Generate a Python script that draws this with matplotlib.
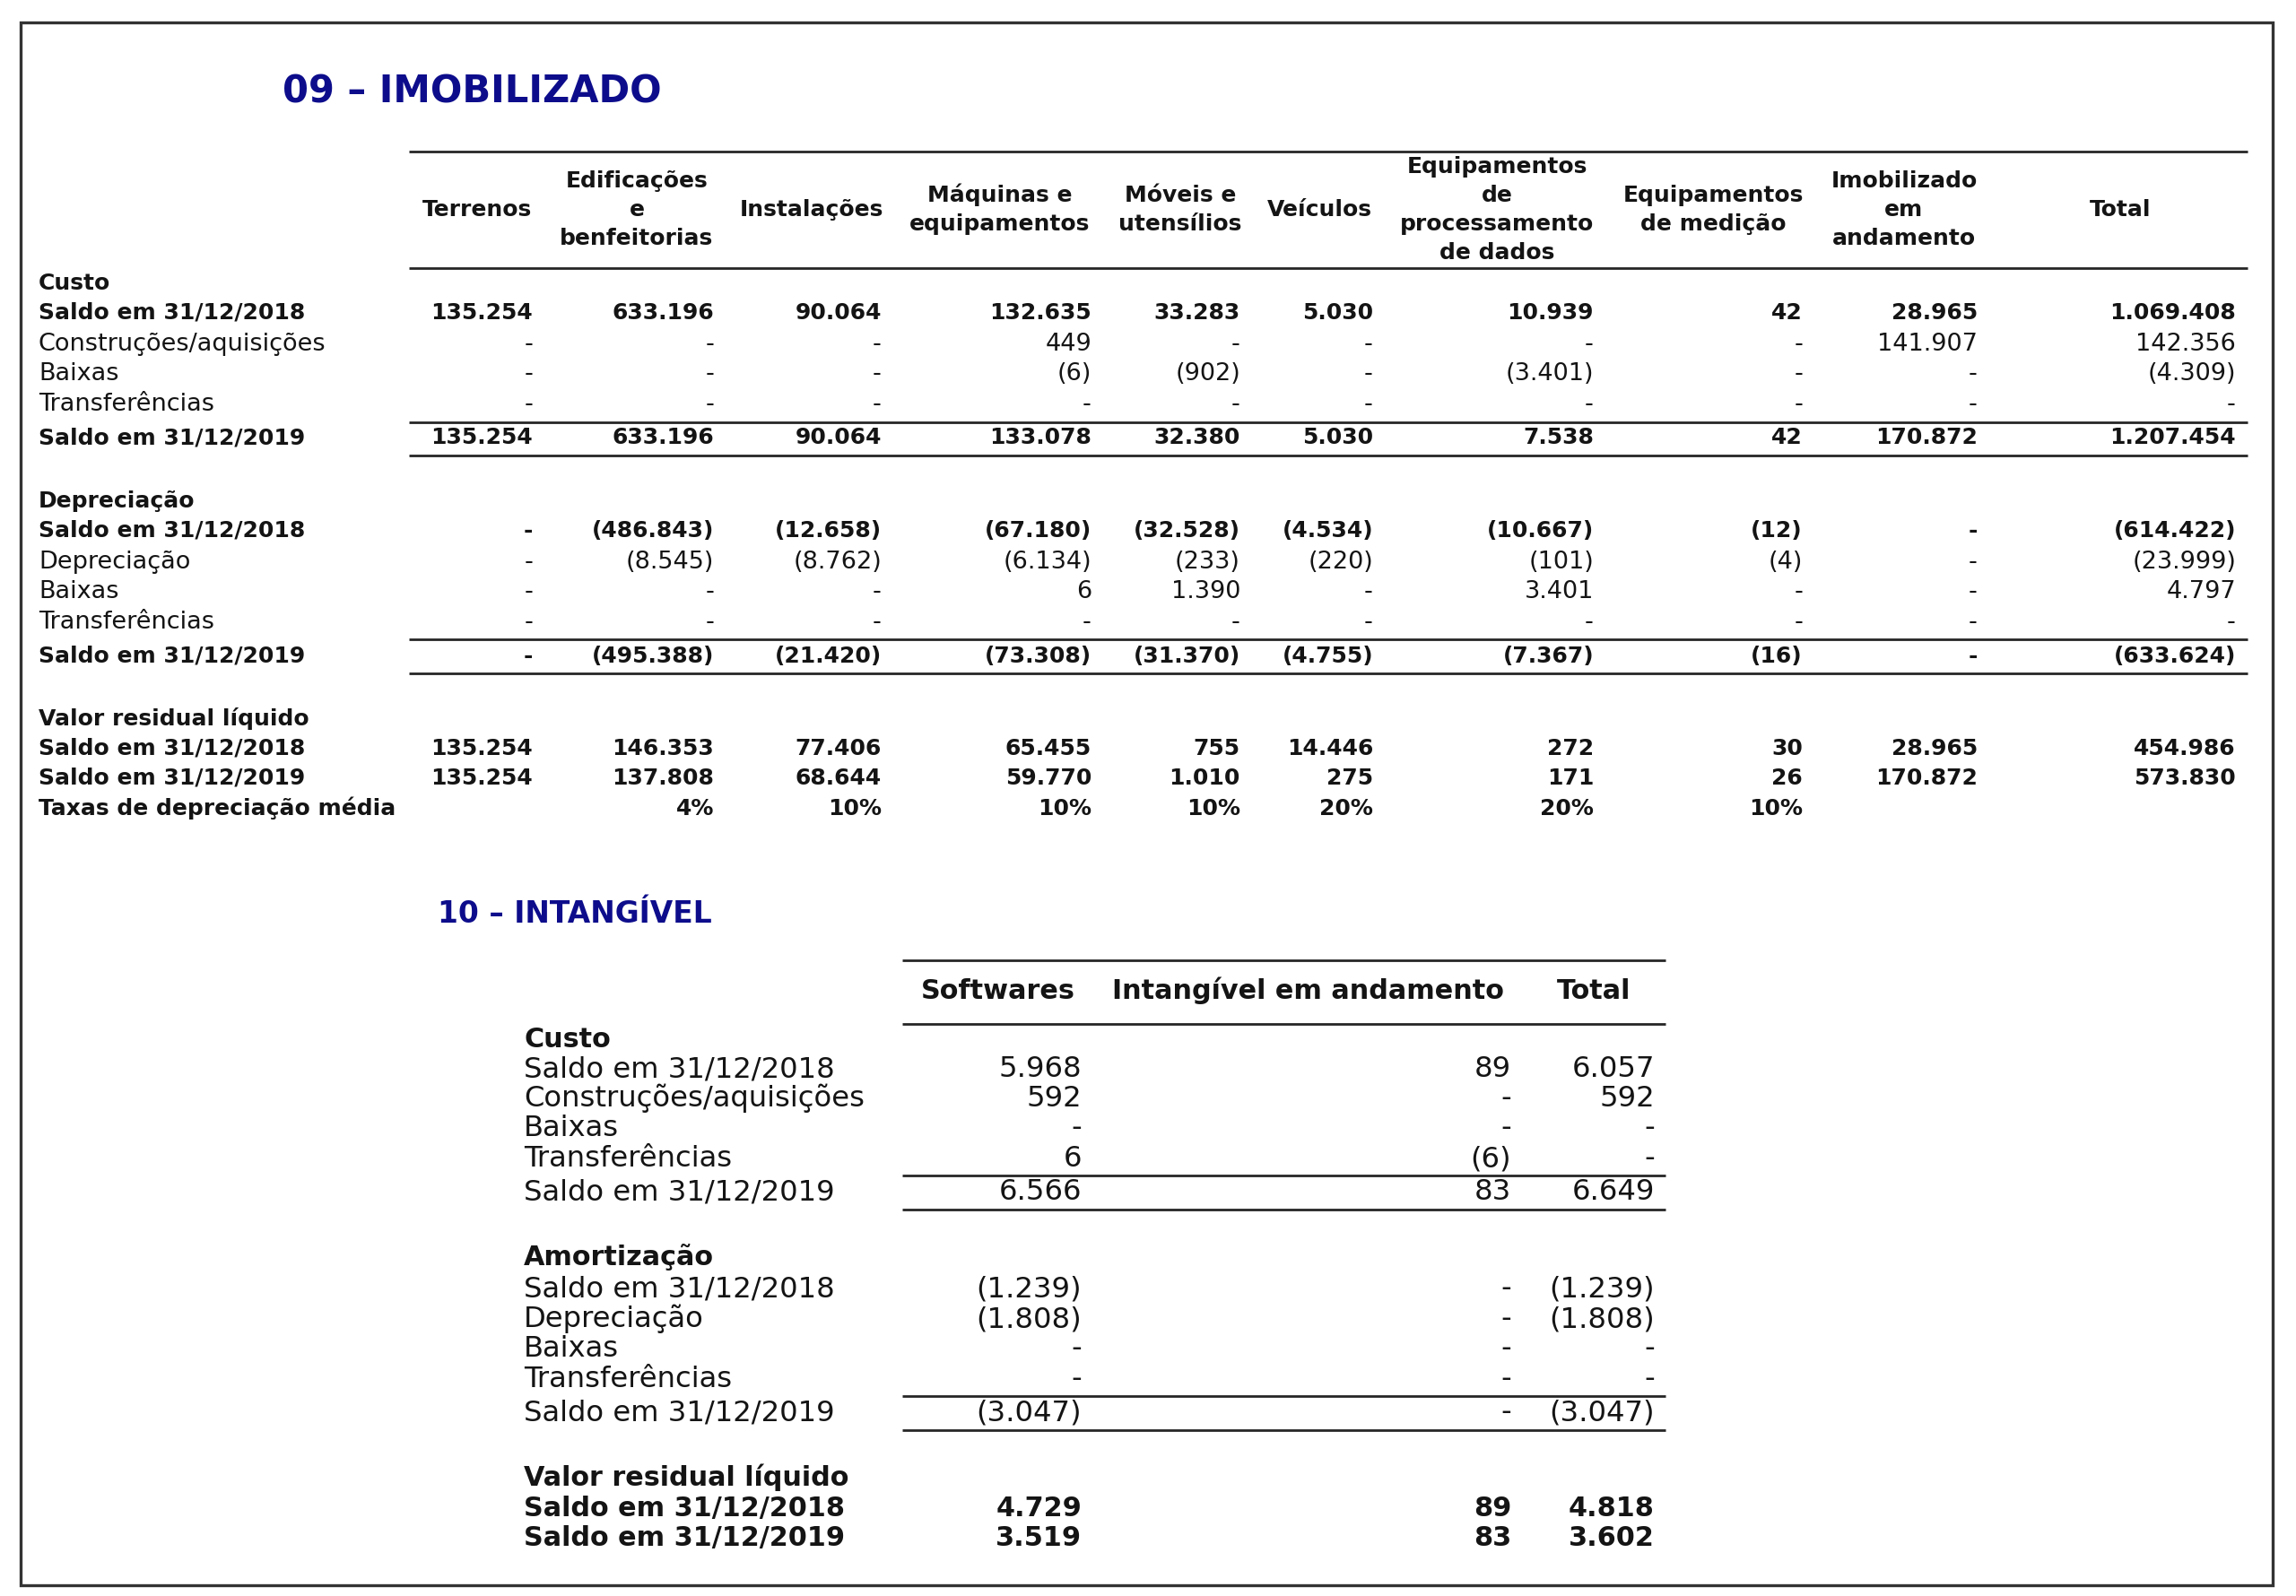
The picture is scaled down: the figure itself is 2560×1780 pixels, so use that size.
import matplotlib
matplotlib.use("Agg")
import matplotlib.pyplot as plt
from matplotlib.patches import Rectangle

plt.rcParams['font.family'] = ['DejaVu Sans']

# ---------------- DATA ----------------
title1 = "09 – IMOBILIZADO"
title2 = "10 – INTANGÍVEL"

cols1 = ["Terrenos", "Edificações\ne\nbenfeitorias", "Instalações", "Máquinas e\nequipamentos",
         "Móveis e\nutensílios", "Veículos", "Equipamentos\nde\nprocessamento\nde dados",
         "Equipamentos\nde medição", "Imobilizado\nem\nandamento", "Total"]

custo_saldo_2018 = [135254, 633196, 90064, 132635, 33283, 5030, 10939, 42, 28965, 1069408]
custo_construcoes = [None, None, None, 449, None, None, None, None, 141907, 142356]
custo_baixas = [None, None, None, -6, -902, None, -3401, None, None, -4309]
custo_transf = [None, None, None, None, None, None, None, None, None, None]
custo_saldo_2019 = [135254, 633196, 90064, 133078, 32380, 5030, 7538, 42, 170872, 1207454]

dep_saldo_2018 = [None, -486843, -12658, -67180, -32528, -4534, -10667, -12, None, -614422]
dep_depreciacao = [None, -8545, -8762, -6134, -233, -220, -101, -4, None, -23999]
dep_baixas = [None, None, None, 6, 1390, None, 3401, None, None, 4797]
dep_transf = [None, None, None, None, None, None, None, None, None, None]
dep_saldo_2019 = [None, -495388, -21420, -73308, -31370, -4755, -7367, -16, None, -633624]

res_saldo_2018 = [135254, 146353, 77406, 65455, 755, 14446, 272, 30, 28965, 454986]
res_saldo_2019 = [135254, 137808, 68644, 59770, 1010, 275, 171, 26, 170872, 573830]
taxas_pct = ["", 4, 10, 10, 10, 20, 20, 10, "", ""]

cols2 = ["Softwares", "Intangível em andamento", "Total"]
int_saldo_2018 = [5968, 89, 6057]
int_construcoes = [592, None, 592]
int_baixas = [None, None, None]
int_transf = [6, -6, None]
int_saldo_2019 = [6566, 83, 6649]
amo_saldo_2018 = [-1239, None, -1239]
amo_depreciacao = [-1808, None, -1808]
amo_baixas = [None, None, None]
amo_transf = [None, None, None]
amo_saldo_2019 = [-3047, None, -3047]
int_res_2018 = [4729, 89, 4818]
int_res_2019 = [3519, 83, 3602]


def fmt(v):
    if v is None:
        return "-"
    if v == "":
        return ""
    s = f"{abs(v):,}".replace(",", ".")
    return f"({s})" if v < 0 else s


def fmt_pct(v):
    return "" if v == "" else f"{v}%"


# ---------------- LAYOUT ----------------
W, H, DPI = 2560, 1781, 100
fig = plt.figure(figsize=(W / DPI, H / DPI), dpi=DPI)
ax = fig.add_axes([0, 0, 1, 1])
ax.set_xlim(0, W)
ax.set_ylim(H, 0)
ax.axis("off")

TXT = "#141414"
LINE = "#262626"
BLUE = "#0d0d8c"


def put(x, y, s, size, weight="normal", ha="left", color=TXT):
    # y = visual center of caps/digits (pixels); convert to baseline
    em = size * DPI / 72.0
    ax.text(x, y + 0.28 * em, s, fontsize=size, fontweight=weight, ha=ha,
            va="baseline", color=color)


def hline(x0, x1, y, lw=2.0):
    ax.plot([x0, x1], [y, y], color=LINE, lw=lw, solid_capstyle="butt")


# frame
ax.add_patch(Rectangle((23, 26), 2534 - 23, 1769 - 26, fill=False,
                       edgecolor="#333333", lw=2.4))

# ---- Table 1 ----
put(315, 103, title1, 30, "bold", color=BLUE)

FS1B, FS1R = 18, 19.5
hdr_centers1 = [532, 710, 905, 1115, 1316, 1471, 1669, 1910, 2123, 2364]
num_right1 = [594, 796, 983, 1217, 1383, 1531, 1777, 2010, 2205, 2493]
LBL1 = 43
T1_X0, T1_X1 = 456, 2506

hline(T1_X0, T1_X1, 170)
hline(T1_X0, T1_X1, 300)
HDR_MID, HDR_STEP = 234, 32
for c, name in zip(hdr_centers1, cols1):
    lines = name.split("\n")
    n = len(lines)
    for i, ln in enumerate(lines):
        y = HDR_MID + (i - (n - 1) / 2) * HDR_STEP
        put(c, y, ln, FS1B, "bold", ha="center")

rows1 = [
    ("Custo", None, "bold", 316),
    ("Saldo em 31/12/2018", custo_saldo_2018, "bold", 349),
    ("Construções/aquisições", custo_construcoes, "normal", 383),
    ("Baixas", custo_baixas, "normal", 416),
    ("Transferências", custo_transf, "normal", 450),
    ("Saldo em 31/12/2019", custo_saldo_2019, "bold", 488),
    ("Depreciação", None, "bold", 559),
    ("Saldo em 31/12/2018", dep_saldo_2018, "bold", 592),
    ("Depreciação", dep_depreciacao, "normal", 626),
    ("Baixas", dep_baixas, "normal", 659),
    ("Transferências", dep_transf, "normal", 693),
    ("Saldo em 31/12/2019", dep_saldo_2019, "bold", 732),
    ("Valor residual líquido", None, "bold", 802),
    ("Saldo em 31/12/2018", res_saldo_2018, "bold", 835),
    ("Saldo em 31/12/2019", res_saldo_2019, "bold", 868),
]
for label, vals, wt, y in rows1:
    fs = FS1B if wt == "bold" else FS1R
    put(LBL1, y, label, fs, wt)
    if vals is not None:
        for xr, v in zip(num_right1, vals):
            put(xr, y, fmt(v), fs, wt, ha="right")

put(LBL1, 902, "Taxas de depreciação média", FS1B, "bold")
for xr, v in zip(num_right1, taxas_pct):
    put(xr, 902, fmt_pct(v), FS1B, "bold", ha="right")

for y in (472, 509, 714, 752):
    hline(T1_X0, T1_X1, y)

# ---- Table 2 ----
put(488, 1020, title2, 23.7, "bold", color=BLUE)

FS2B, FS2R = 21.8, 23.2
hdr_centers2 = [1113, 1458, 1777]
num_right2 = [1206, 1685, 1845]
LBL2 = 584
T2_X0, T2_X1 = 1006, 1857

hline(T2_X0, T2_X1, 1072)
hline(T2_X0, T2_X1, 1143)
for c, name in zip(hdr_centers2, cols2):
    put(c, 1106, name, FS2B, "bold", ha="center")

rows2 = [
    ("Custo", None, "bold", 1160),
    ("Saldo em 31/12/2018", int_saldo_2018, "normal", 1192),
    ("Construções/aquisições", int_construcoes, "normal", 1225),
    ("Baixas", int_baixas, "normal", 1258),
    ("Transferências", int_transf, "normal", 1292),
    ("Saldo em 31/12/2019", int_saldo_2019, "normal", 1329),
    ("Amortização", None, "bold", 1403),
    ("Saldo em 31/12/2018", amo_saldo_2018, "normal", 1437),
    ("Depreciação", amo_depreciacao, "normal", 1471),
    ("Baixas", amo_baixas, "normal", 1504),
    ("Transferências", amo_transf, "normal", 1538),
    ("Saldo em 31/12/2019", amo_saldo_2019, "normal", 1575),
    ("Valor residual líquido", None, "bold", 1649),
    ("Saldo em 31/12/2018", int_res_2018, "bold", 1683),
    ("Saldo em 31/12/2019", int_res_2019, "bold", 1716),
]
for label, vals, wt, y in rows2:
    fs = FS2B if wt == "bold" else FS2R
    put(LBL2, y, label, fs, wt)
    if vals is not None:
        for xr, v in zip(num_right2, vals):
            put(xr, y, fmt(v), fs, wt, ha="right")

for y in (1312, 1350, 1558, 1596):
    hline(T2_X0, T2_X1, y)

fig.savefig("out.png", dpi=DPI, facecolor="white")
